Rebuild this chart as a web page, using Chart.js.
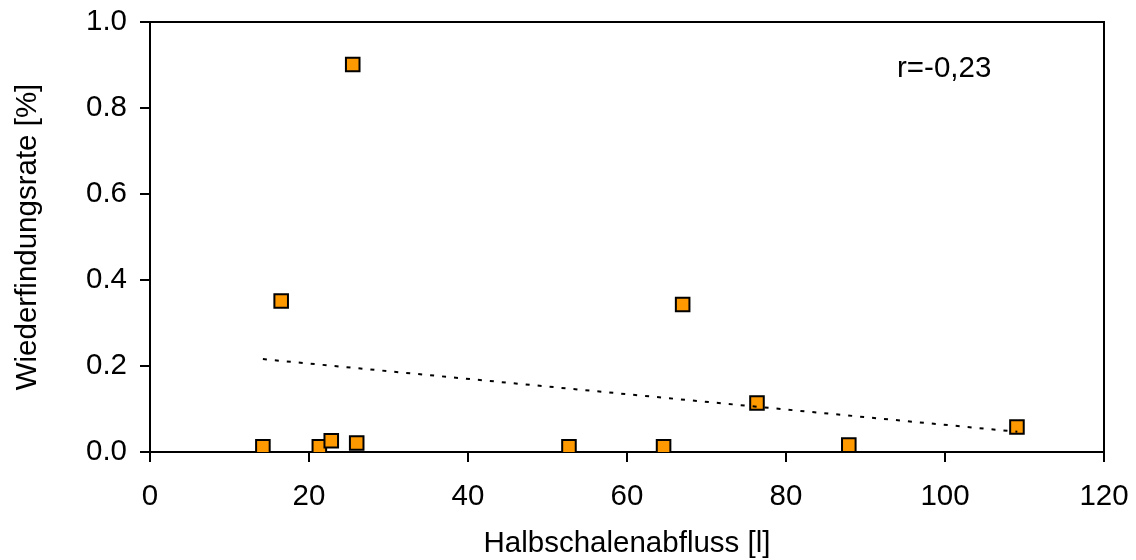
<!DOCTYPE html>
<html>
<head>
<meta charset="utf-8">
<script src="https://cdn.jsdelivr.net/npm/chart.js@4/dist/chart.umd.min.js"></script>
<style>
  html, body { margin: 0; padding: 0; background: #fff; }
  canvas { display: block; }
</style>
</head>
<body>
<canvas id="c" width="1136" height="560"></canvas>
<script>
// Data
const xValues = [14.2, 16.5, 21.3, 22.8, 25.5, 26.0, 52.7, 64.6, 67.0, 76.35, 87.9, 109.05];
const yValues = [0.012, 0.351, 0.012, 0.026, 0.901, 0.021, 0.012, 0.012, 0.343, 0.114, 0.016, 0.058];
const trendX = [14.2, 109.1];
const trendY = [0.216, 0.047];
const xTicks = [0, 20, 40, 60, 80, 100, 120];
const yTicks = [0.0, 0.2, 0.4, 0.6, 0.8, 1.0];
const xTitle = 'Halbschalenabfluss [l]';
const yTitle = 'Wiederfindungsrate [%]';
const corrLabel = 'r=-0,23';

const FONT = "'Liberation Sans', Arial, sans-serif";
const FS = 29.5;

const framePlugin = {
  id: 'frame',
  afterDatasetsDraw(chart) {
    const {ctx, chartArea: a} = chart;
    ctx.save();
    ctx.strokeStyle = '#000';
    ctx.lineWidth = 2;
    ctx.beginPath();
    ctx.moveTo(a.left, a.top);
    ctx.lineTo(a.right, a.top);
    ctx.lineTo(a.right, a.bottom);
    ctx.stroke();
    ctx.fillStyle = '#000';
    ctx.font = FS + 'px ' + FONT;
    ctx.textAlign = 'left';
    ctx.textBaseline = 'middle';
    ctx.fillText(corrLabel, 897, 69);
    ctx.restore();
  }
};

new Chart(document.getElementById('c'), {
  type: 'scatter',
  data: {
    datasets: [
      {
        label: 'trend',
        data: trendX.map((x, i) => ({x, y: trendY[i]})),
        showLine: true,
        borderColor: '#000',
        borderWidth: 2,
        borderDash: [4, 8],
        pointRadius: 0,
        fill: false,
        order: 0
      },
      {
        label: 'data',
        data: xValues.map((x, i) => ({x, y: yValues[i]})),
        pointStyle: 'rect',
        pointRadius: 9.6,
        pointBackgroundColor: '#FF9900',
        pointBorderColor: '#000',
        pointBorderWidth: 2,
        showLine: false,
        order: 1
      }
    ]
  },
  options: {
    responsive: false,
    animation: false,
    layout: { padding: { top: 22, right: 32, left: 0, bottom: 0 } },
    plugins: { legend: { display: false }, tooltip: { enabled: false } },
    scales: {
      x: {
        type: 'linear',
        min: 0, max: 120,
        afterBuildTicks(s) { s.ticks = xTicks.map(v => ({value: v})); },
        afterFit(s) { s.height = 108; s.paddingLeft = 0; s.paddingRight = 0; },
        ticks: {
          color: '#000',
          font: { family: FONT, size: FS },
          padding: 17,
          maxRotation: 0,
          callback: v => String(v)
        },
        grid: { drawOnChartArea: false, drawTicks: true, tickLength: 10, color: '#000', lineWidth: 2 },
        border: { display: true, color: '#000', width: 2 },
        title: {
          display: true, text: xTitle, color: '#000',
          font: { family: FONT, size: FS, lineHeight: 1.1 },
          padding: { top: 0, bottom: 0 }
        }
      },
      y: {
        type: 'linear',
        min: 0, max: 1,
        afterBuildTicks(s) { s.ticks = yTicks.map(v => ({value: v})); },
        afterFit(s) { s.width = 150; s.paddingTop = 0; s.paddingBottom = 0; },
        ticks: {
          color: '#000',
          font: { family: FONT, size: FS },
          padding: 13,
          callback: v => Number(v).toFixed(1)
        },
        grid: { drawOnChartArea: false, drawTicks: true, tickLength: 10, color: '#000', lineWidth: 2 },
        border: { display: true, color: '#000', width: 2 },
        title: {
          display: true, text: yTitle, color: '#000',
          font: { family: FONT, size: FS, lineHeight: 1.2 },
          padding: { top: 10, bottom: 0 }
        }
      }
    }
  },
  plugins: [framePlugin]
});
</script>
</body>
</html>
